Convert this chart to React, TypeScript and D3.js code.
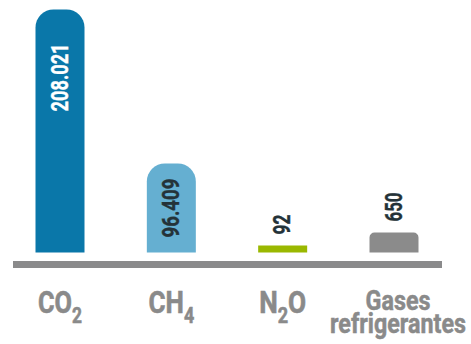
import React, { useLayoutEffect, useRef, useState } from "react";
import * as d3 from "d3";

const categories = ["CO2", "CH4", "N2O", "Gases refrigerantes"];
const values = [208021, 96409, 92, 650];
const valueLabels = ["208.021", "96.409", "92", "650"];
const barColors = ["#0a77a9", "#65afd1", "#9ab800", "#8b8b8b"];

const W = 471;
const H = 344;
const baseY = 252.5;
const FONT = "Roboto, 'DejaVu Sans', sans-serif";

// pictorial (non-linear) scale used by the infographic
const hScale = d3
  .scaleLinear()
  .domain([0, 100, 1000, 100000, 250000])
  .range([0, 7.6, 27.9, 91.3, 302]);

const xScale = d3.scalePoint<string>().domain(categories).range([60, 394]);
const barW = 49;

// target rendered widths of the condensed texts
const catLen: Record<string, number> = {
  CO2: 44,
  CH4: 46,
  N2O: 47,
  "Gases refrigerantes": 136,
};
const valLen: Record<string, number> = {
  "208.021": 68,
  "96.409": 59,
  "92": 20,
  "650": 29,
};

function barPath(cx: number, h: number) {
  const x0 = cx - barW / 2;
  const x1 = cx + barW / 2;
  const top = baseY - h;
  const r = Math.min(18, h * 0.25);
  if (r < 2) return `M${x0},${baseY}V${top}H${x1}V${baseY}Z`;
  return `M${x0},${baseY}V${top + r}A${r},${r} 0 0 1 ${x0 + r},${top}H${x1 - r}A${r},${r} 0 0 1 ${x1},${top + r}V${baseY}Z`;
}

function formulaTspans(s: string) {
  const parts: JSX.Element[] = [];
  let sub = false;
  s.split("").forEach((ch, i) => {
    const isDigit = /[0-9]/.test(ch);
    if (isDigit && !sub) {
      parts.push(
        <tspan key={i} dy={10} fontSize={22}>
          {ch}
        </tspan>
      );
      sub = true;
    } else if (!isDigit && sub) {
      parts.push(
        <tspan key={i} dy={-10} fontSize={32}>
          {ch}
        </tspan>
      );
      sub = false;
    } else {
      parts.push(
        <tspan key={i} fontSize={isDigit ? 22 : 32}>
          {ch}
        </tspan>
      );
    }
  });
  return parts;
}

export default function App() {
  const refs = useRef<Record<string, SVGTextElement | null>>({});
  const [scales, setScales] = useState<Record<string, number>>({});
  const targets = useRef<Record<string, number>>({});

  useLayoutEffect(() => {
    if (Object.keys(scales).length) return;
    const s: Record<string, number> = {};
    Object.entries(refs.current).forEach(([k, el]) => {
      if (!el) return;
      const w = el.getBBox().width;
      s[k] = w > 0 ? targets.current[k] / w : 1;
    });
    setScales(s);
  }, [scales]);

  const reg = (key: string, target: number) => (el: SVGTextElement | null) => {
    refs.current[key] = el;
    targets.current[key] = target;
  };
  const sc = (key: string) => scales[key] ?? 1;

  return (
    <svg
      width={W}
      height={H}
      style={{ position: "absolute", left: 0, top: 0, background: "#fff" }}
      fontFamily={FONT}
      fontWeight={700}
    >
      {categories.map((c, i) => {
        const cx = xScale(c) as number;
        const h = hScale(values[i]);
        const top = baseY - h;
        const inside = h > 60;
        const label = valueLabels[i];
        let ty: number;
        let anchor: "start" | "end";
        if (inside) {
          anchor = "end";
          ty = top + (h > 150 ? 34 : 15);
        } else {
          anchor = "start";
          ty = top - 11;
        }
        const key = "v" + i;
        const col = i === 0 ? "#ffffff" : "#243238";
        return (
          <g key={c}>
            <path d={barPath(cx, h)} fill={barColors[i]} />
            <text
              ref={reg(key, valLen[label])}
              transform={`translate(${cx + 7.5},${ty}) rotate(-90) scale(${sc(key)},1)`}
              textAnchor={anchor}
              fontSize={24}
              fill={col}
              stroke={col}
              strokeWidth={0.4}
            >
              {label}
            </text>
          </g>
        );
      })}
      <rect x={13} y={261} width={429} height={7} fill="#8a8a8b" />
      {categories.map((c) => {
        const cx = xScale(c) as number;
        if (c.includes(" ")) {
          const lines = c.split(" ");
          return (
            <text
              key={c}
              ref={reg(c, catLen[c])}
              transform={`translate(${cx + 4},310) scale(${sc(c)},1)`}
              textAnchor="middle"
              fill="#8a8a8a"
              stroke="#8a8a8a"
              strokeWidth={0.5}
              fontSize={27}
            >
              {lines.map((ln, j) => (
                <tspan key={j} x={0} dy={j === 0 ? 0 : 23}>
                  {ln}
                </tspan>
              ))}
            </text>
          );
        }
        return (
          <text
            key={c}
            ref={reg(c, catLen[c])}
            transform={`translate(${cx},313) scale(${sc(c)},1)`}
            textAnchor="middle"
            fill="#8a8a8a"
            stroke="#8a8a8a"
            strokeWidth={0.6}
            fontSize={32}
          >
            {formulaTspans(c)}
          </text>
        );
      })}
    </svg>
  );
}
